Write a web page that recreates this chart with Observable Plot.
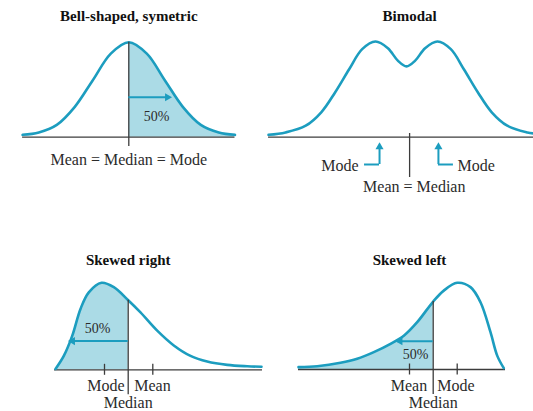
<!DOCTYPE html>
<html><head><meta charset="utf-8">
<script src="https://cdn.jsdelivr.net/npm/d3@7"></script>
<script src="https://cdn.jsdelivr.net/npm/@observablehq/plot@0.6"></script>
<style>
body{margin:0;background:#fff;}
#fig{position:relative;width:533px;height:411px;overflow:hidden;background:#fff;}
#fig svg{position:absolute;}
</style></head><body><div id="fig"></div>
<script>
// ---------- data ----------
const titles = ["Bell-shaped, symetric", "Bimodal", "Skewed right", "Skewed left"];

// Bell-shaped: x in standard units, y relative height
const bellX = [-2.95, -2.5, -2, -1.5, -1, -0.5, 0, 0.5, 1, 1.5, 2, 2.5, 2.95];
const bellY = [0.025, 0.05, 0.13, 0.32, 0.6, 0.88, 1, 0.88, 0.6, 0.32, 0.13, 0.05, 0.025];
const bellCentre = [0];          // mean = median = mode

// Bimodal
const biX = [-4.45, -3.9, -3.25, -2.75, -2.3, -1.85, -1.43, -1, -0.6, -0.28, 0, 0.28, 0.6, 1, 1.43, 1.85, 2.3, 2.75, 3.25, 3.9, 4.2];
const biY = [0.025, 0.05, 0.12, 0.26, 0.47, 0.71, 0.92, 1, 0.93, 0.8, 0.74, 0.8, 0.93, 1, 0.92, 0.71, 0.47, 0.26, 0.12, 0.05, 0.035];
const biModes = [-0.87, 1.03];
const biMean = [0.1];

// Skewed right
const rX = [0, 0.83, 1.67, 2.5, 3.33, 4.6, 5.83, 7.27, 8.5, 10.17, 11.83, 13.5, 15.17, 17.17, 19.17, 20.6];
const rY = [0.01, 0.16, 0.39, 0.70, 0.89, 1.0, 0.95, 0.80, 0.66, 0.45, 0.28, 0.16, 0.095, 0.057, 0.041, 0.035];
const rStatLabels = ["Mode", "Median", "Mean"];
const rStatX = [4.9, 7.27, 9.73];

// Skewed left
const lX = [0, 1.87, 4.2, 5.87, 7.53, 9.2, 10.53, 11.87, 13.47, 14.53, 15.87, 17.2, 18.2, 19.2, 19.87, 20.53];
const lY = [0.027, 0.038, 0.077, 0.123, 0.2, 0.296, 0.39, 0.546, 0.784, 0.91, 1.0, 0.95, 0.776, 0.43, 0.16, 0.015];
const lStatLabels = ["Mean", "Median", "Mode"];
const lStatX = [11.1, 13.47, 15.87];

const pctLabel = "50%";

// ---------- style ----------
const TEAL = "#1c9dbf", FILL = "#abdbe6", INK = "#3c3c3c", TXT = "#2b2b2b";
const FONT = "'Liberation Serif', 'Times New Roman', serif";
const fig = document.getElementById("fig");
const pts = (xs, ys) => xs.map((x, i) => ({x, y: ys[i]}));

function panel({left, top, width, height, xDomain, xRange, yRange, marks}) {
  const svg = Plot.plot({
    width, height, margin: 0,
    x: {domain: xDomain, range: xRange, axis: null},
    y: {domain: [0, 1], range: yRange, axis: null},
    style: {fontFamily: FONT, background: "transparent", overflow: "visible"},
    marks
  });
  svg.style.left = left + "px";
  svg.style.top = top + "px";
  fig.appendChild(svg);
}
const title = (t, x, dy) => Plot.text([{x, t}], {x: "x", text: "t", frameAnchor: "top", dy, lineAnchor: "middle",
  fontWeight: "bold", fontSize: 15, fill: "#111"});
const label = (arr, opts) => Plot.text(arr, {x: "x", y: "y", text: "t", lineAnchor: "middle", fontSize: 16, fill: TXT, ...opts});
const head = (x, y, rotate, dx, dy) => Plot.dot([{x, y}], {x: "x", y: "y", symbol: "triangle", r: 3, fill: TEAL, stroke: "none", rotate, dx, dy});
const curveOpts = {x: "x", y: "y", curve: "catmull-rom"};

// ---------- panel 1: bell ----------
{
  const unit = 95;
  const data = pts(bellX, bellY);
  const c = bellCentre[0];
  const arrowY = 0.42, arrowTip = 1.2;
  panel({
    left: 0, top: 0, width: 266, height: 205,
    xDomain: [-1, 1], xRange: [92.3, 164.3], yRange: [136.7, 136.7 - unit],
    marks: [
      Plot.areaY(data, {...curveOpts, filter: d => d.x >= c, fill: FILL}),
      Plot.ruleY([0], {x1: bellX[0], x2: bellX[bellX.length - 1], stroke: INK, strokeWidth: 1.3}),
      Plot.line(data, {...curveOpts, stroke: TEAL, strokeWidth: 2.6}),
      Plot.ruleX(bellCentre, {x: d => d, y1: 1, y2: -9.3 / unit, stroke: INK, strokeWidth: 1.3}),
      Plot.ruleY([arrowY], {x1: c, x2: arrowTip - 0.1, stroke: TEAL, strokeWidth: 2}),
      head(arrowTip, arrowY, 90, -4.6, 0),
      label([{x: 0.77, y: 0.22, t: pctLabel}], {fontSize: 14}),
      label([{x: c, y: 0, t: "Mean = Median = Mode"}], {dy: 22.3}),
      title(titles[0], c, 16)
    ]
  });
}

// ---------- panel 2: bimodal ----------
{
  const unit = 95.7;
  const data = pts(biX, biY);
  const m = biMean[0];
  const [mL, mR] = biModes;
  const tipY = -5 / unit, barY = -27.3 / unit, out = 15 / 31;
  panel({
    left: 266, top: 0, width: 267, height: 205,
    xDomain: [-1, 1], xRange: [109, 171], yRange: [136.7, 136.7 - unit],
    marks: [
      Plot.ruleY([0], {x1: biX[0], x2: 4.3, stroke: INK, strokeWidth: 1.3}),
      Plot.line(data, {...curveOpts, stroke: TEAL, strokeWidth: 2.6}),
      Plot.ruleX(biMean, {x: d => d, y1: 3.7 / unit, y2: -40.3 / unit, stroke: INK, strokeWidth: 1.3}),
      // mode arrows
      Plot.ruleX(biModes, {x: d => d, y1: tipY - 6 / unit, y2: barY, stroke: TEAL, strokeWidth: 2}),
      Plot.ruleY([barY], {x1: mL - out, x2: mL, stroke: TEAL, strokeWidth: 2}),
      Plot.ruleY([barY], {x1: mR, x2: mR + out, stroke: TEAL, strokeWidth: 2}),
      head(mL, tipY, 0, 0, 4.6),
      head(mR, tipY, 0, 0, 4.6),
      label([{x: mL - out, y: barY, t: "Mode"}], {textAnchor: "end", dx: -6, dy: 1}),
      label([{x: mR + out, y: barY, t: "Mode"}], {textAnchor: "start", dx: 4, dy: 1}),
      label([{x: m + 0.15, y: 0, t: "Mean = Median"}], {dy: 50}),
      title(titles[1], m, 16)
    ]
  });
}

// ---------- panel 3: skewed right ----------
{
  const unit = 87;
  const data = pts(rX, rY);
  const [mode, median, mean] = rStatX;
  const medY = rY[rX.indexOf(median)];
  const arrowY = 0.33, arrowTip = 1.25;
  panel({
    left: 0, top: 205, width: 266, height: 206,
    xDomain: [0, 20], xRange: [55, 255], yRange: [164.3, 164.3 - unit],
    marks: [
      Plot.areaY(data, {...curveOpts, filter: d => d.x <= median, fill: FILL}),
      Plot.ruleY([0], {x1: -0.1, x2: 20.7, stroke: INK, strokeWidth: 1.3}),
      Plot.line(data, {...curveOpts, stroke: TEAL, strokeWidth: 2.6}),
      Plot.ruleX([mode, mean], {x: d => d, y1: 5.5 / unit, y2: -5.5 / unit, stroke: INK, strokeWidth: 1.3}),
      Plot.ruleX([median], {x: d => d, y1: medY, y2: -25 / unit, stroke: INK, strokeWidth: 1.3}),
      Plot.ruleY([arrowY], {x1: arrowTip + 0.2, x2: median, stroke: TEAL, strokeWidth: 2}),
      head(arrowTip, arrowY, -90, 4.6, 0),
      label([{x: 4.2, y: 0.48, t: pctLabel}], {fontSize: 14}),
      label([{x: median, y: 0, t: rStatLabels[0]}], {textAnchor: "end", dx: -3.5, dy: 16.4}),
      label([{x: median, y: 0, t: rStatLabels[2]}], {textAnchor: "start", dx: 6, dy: 16.4}),
      label([{x: median, y: 0, t: rStatLabels[1]}], {dy: 33.5}),
      title(titles[2], median, 55)
    ]
  });
}

// ---------- panel 4: skewed left ----------
{
  const unit = 86.7;
  const data = pts(lX, lY);
  const [mean, median, mode] = lStatX;
  const medY = lY[lX.indexOf(median)];
  const arrowY = 0.327, arrowTip = 9.7;
  panel({
    left: 266, top: 205, width: 267, height: 206,
    xDomain: [0, 20], xRange: [32, 232], yRange: [164, 164 - unit],
    marks: [
      Plot.areaY(data, {...curveOpts, filter: d => d.x <= median, fill: FILL}),
      Plot.ruleY([0], {x1: 0, x2: 20.7, stroke: INK, strokeWidth: 1.3}),
      Plot.line(data, {...curveOpts, stroke: TEAL, strokeWidth: 2.6}),
      Plot.ruleX([mean, mode], {x: d => d, y1: 5.5 / unit, y2: -5.5 / unit, stroke: INK, strokeWidth: 1.3}),
      Plot.ruleX([median], {x: d => d, y1: medY, y2: -25 / unit, stroke: INK, strokeWidth: 1.3}),
      Plot.ruleY([arrowY], {x1: arrowTip + 0.2, x2: median, stroke: TEAL, strokeWidth: 2}),
      head(arrowTip, arrowY, -90, 4.6, 0),
      label([{x: 11.7, y: 0.17, t: pctLabel}], {fontSize: 14}),
      label([{x: median, y: 0, t: lStatLabels[0]}], {textAnchor: "end", dx: -6, dy: 16.4}),
      label([{x: median, y: 0, t: lStatLabels[2]}], {textAnchor: "start", dx: 4, dy: 16.4}),
      label([{x: median, y: 0, t: lStatLabels[1]}], {dy: 33.5}),
      title(titles[3], mean, 55)
    ]
  });
}
</script></body></html>
